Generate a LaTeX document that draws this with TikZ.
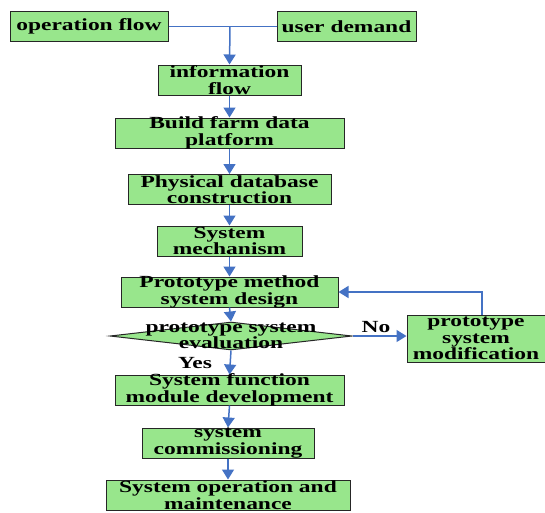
\documentclass[tikz,border=0pt]{standalone}
\usepackage{fontspec}
\usetikzlibrary{shapes.geometric,arrows.meta}
\newfontfamily\flowfont{Liberation Serif}[FakeStretch=1.38]
\definecolor{boxgreen}{RGB}{152,230,140}
\definecolor{flowblue}{RGB}{68,114,196}

\begin{document}
\begin{tikzpicture}[x=1pt,y=-1pt,
    every node/.style={font=\flowfont\bfseries\fontsize{17}{16.5}\selectfont},
    stage/.style={draw=black!85,fill=boxgreen,line width=1pt,align=center,
        inner xsep=0pt,inner ysep=-3pt,minimum height=30pt},
    flow/.style={draw=flowblue,line width=1.5pt,-{Triangle[width=12pt,length=10pt]}}]
    \useasboundingbox (0,0) rectangle (545,512);
    % boxes, top to bottom
    \node[stage,minimum width=158pt] (opflow) at (89,26.5) {operation flow};
    \node[stage,minimum width=139pt] (demand) at (346.5,26.5) {user demand};
    \node[stage,minimum width=143pt] (info) at (229.5,80) {information\\flow};
    \node[stage,minimum width=229pt] (platform) at (229.5,133) {Build farm data\\platform};
    \node[stage,minimum width=203pt] (database) at (229.5,189.5) {Physical database\\construction};
    \node[stage,minimum width=145pt] (mechanism) at (229.5,241) {System\\mechanism};
    \node[stage,minimum width=217pt] (design) at (229.5,292) {Prototype method\\system design};
    \node[diamond,draw=black!85,fill=boxgreen,line width=1pt,minimum width=242pt,
        minimum height=28pt,inner sep=0pt] (evaluation) at (231,336) {};
    \node[align=center] (evaltext) at (evaluation) {prototype system\\evaluation};
    \node[stage,minimum width=138pt,minimum height=47pt] (modification) at (476,338.5) {prototype\\system\\modification};
    \node[stage,minimum width=229pt] (development) at (229.5,390) {System function\\module development};
    \node[stage,minimum width=172pt] (commissioning) at (228,443) {system\\commissioning};
    \node[stage,minimum width=244pt] (maintenance) at (228,495) {System operation and\\maintenance};
    \node (no) at (376,327) {No};
    \node (yes) at (195,363) {Yes};
    % connectors
    \coordinate (junction) at (230,26.5);
    \draw[draw=flowblue,line width=1.5pt] (opflow.east) -- (demand.west);
    \draw[flow] (junction) -- (info.north);
    \foreach \a/\b in {info/platform,platform/database,database/mechanism,mechanism/design,
        design/evaluation,evaluation/development,development/commissioning,commissioning/maintenance}
        \draw[flow] (\a.south) -- (\b.north);
    \draw[flow] (evaluation.east) -- (evaluation.east -| modification.west);
    \draw[flow] ([xshift=6pt]modification.north) |- (design.east);
\end{tikzpicture}
\end{document}
